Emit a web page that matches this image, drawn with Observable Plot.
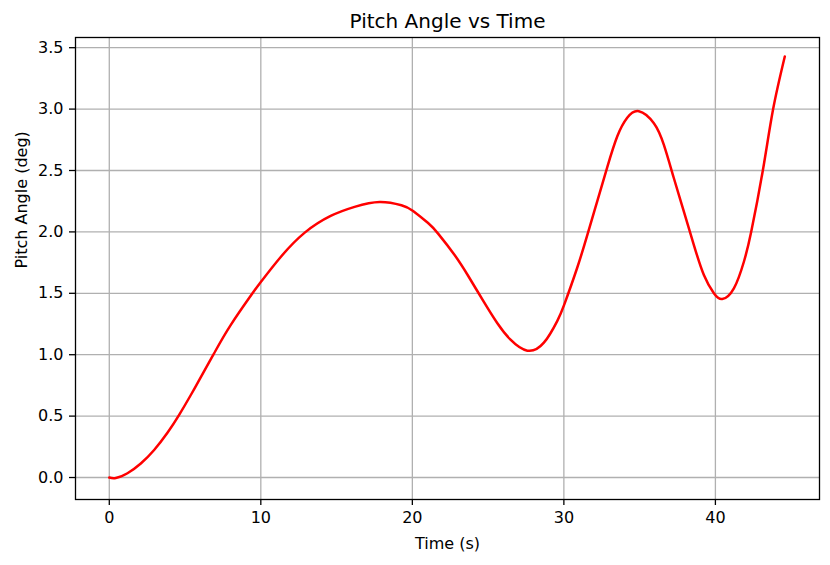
<!DOCTYPE html>
<html>
<head>
<meta charset="utf-8">
<script src="https://cdn.jsdelivr.net/npm/d3@7"></script>
<script src="https://cdn.jsdelivr.net/npm/@observablehq/plot@0.6"></script>
<style>
  html, body { margin: 0; padding: 0; background: white; }
</style>
</head>
<body>
<div id="chart"></div>
<script>
const titleText = "Pitch Angle vs Time";
const xLabel = "Time (s)";
const yLabel = "Pitch Angle (deg)";

const time = [0, 0.43, 1.2, 2.08, 2.96, 3.85, 4.62, 5.39, 6.05, 6.93, 8.01, 9.45, 10.0, 11.3,
  12.9, 14.61, 16.19, 17.84, 19.28, 20.05, 21.04, 21.7, 22.8, 23.69, 24.72, 25.6, 26.48, 27.59,
  28.68, 29.56, 30.03, 30.88, 31.54, 32.2, 32.86, 33.52, 34.18, 34.95, 35.94, 36.6, 37.26, 37.92,
  38.58, 39.24, 39.9, 40.45, 41.22, 41.88, 42.36, 43.13, 43.81, 44.58];
const pitch = [0, -0.004, 0.035, 0.114, 0.224, 0.366, 0.512, 0.674, 0.819, 1.014, 1.241, 1.5, 1.592, 1.794,
  1.994, 2.13, 2.204, 2.244, 2.217, 2.171, 2.072, 1.986, 1.81, 1.641, 1.43, 1.258, 1.122, 1.033,
  1.098, 1.274, 1.41, 1.708, 1.972, 2.249, 2.526, 2.777, 2.929, 2.983, 2.885, 2.708, 2.437, 2.165,
  1.893, 1.649, 1.5, 1.453, 1.54, 1.757, 2.0, 2.5, 3.0, 3.428];

const xTicks = [0, 10, 20, 30, 40];
const yTicks = [0, 0.5, 1.0, 1.5, 2.0, 2.5, 3.0, 3.5];

const data = time.map((t, i) => ({t, v: pitch[i]}));

const chart = Plot.plot({
  width: 830,
  height: 565,
  marginLeft: 75,
  marginRight: 11,
  marginTop: 37,
  marginBottom: 66,
  style: {fontFamily: "DejaVu Sans", fontSize: "16px", color: "black", background: "white"},
  x: {domain: [-2.23, 46.87], label: null},
  y: {domain: [-0.179, 3.583], label: null},
  marks: [
    Plot.gridX(xTicks, {stroke: "#b0b0b0", strokeOpacity: 1, strokeWidth: 1.3}),
    Plot.gridY(yTicks, {stroke: "#b0b0b0", strokeOpacity: 1, strokeWidth: 1.3}),
    Plot.line(data, {x: "t", y: "v", stroke: "red", strokeWidth: 2.5, curve: "natural"}),
    Plot.frame({stroke: "black", strokeWidth: 1.3}),
    Plot.axisX({ticks: xTicks, tickSize: 6, tickPadding: 6, tickFormat: d3.format("d"), label: null, strokeWidth: 1.3}),
    Plot.axisY({ticks: yTicks, tickSize: 6, tickPadding: 6, tickFormat: d3.format(".1f"), label: null, strokeWidth: 1.3}),
    Plot.text([titleText], {frameAnchor: "top", dy: -10, lineAnchor: "bottom", fontSize: 20, text: d => d}),
    Plot.text([xLabel], {frameAnchor: "bottom", dy: 49, lineAnchor: "bottom", text: d => d}),
    Plot.text([yLabel], {frameAnchor: "left", dx: -49, rotate: -90, lineAnchor: "bottom", text: d => d})
  ]
});
document.getElementById("chart").appendChild(chart);
</script>
</body>
</html>
